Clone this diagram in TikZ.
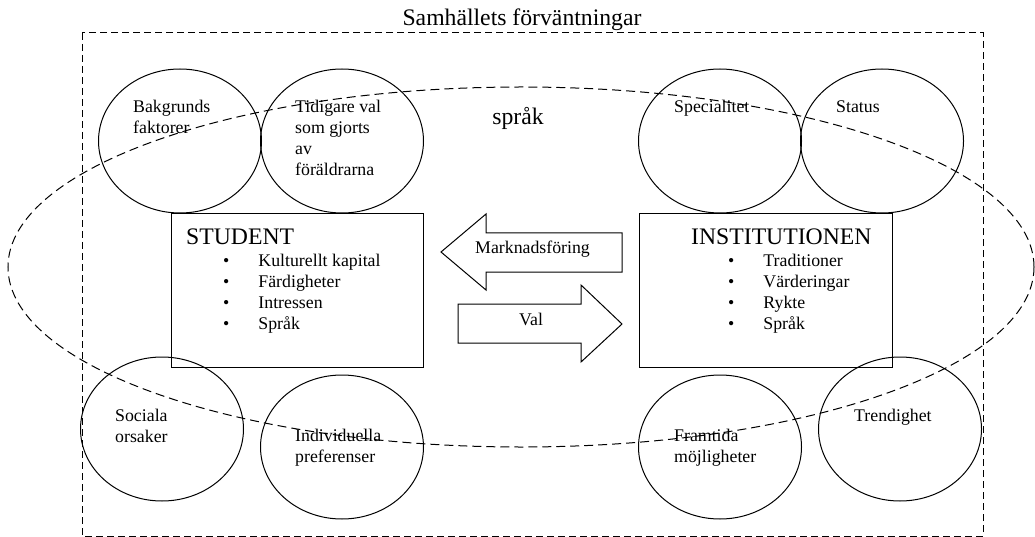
\documentclass[tikz,border=0pt]{standalone}
\usepackage{fontspec}
\setmainfont{Liberation Serif}
\usetikzlibrary{shapes.geometric}
\newcommand{\smalltxt}{\fontsize{17.8}{21}\selectfont}
\newcommand{\bigtxt}{\fontsize{23.7}{28}\selectfont}
\newcommand{\rows}[1]{\begin{tabular}[t]{@{}l@{}}#1\end{tabular}}
\newcommand{\bullets}[1]{\begin{tabular}[t]{@{}l@{\hspace{29pt}}l@{}}#1\end{tabular}}
\tikzset{
    circ/.style={draw, ellipse, line width=1pt, minimum width=163pt, minimum height=144pt, inner sep=0pt},
    box/.style={draw, rectangle, line width=1pt, inner sep=0pt},
    lbl/.style={anchor=base west, inner sep=0pt, font=\smalltxt},
    heading/.style={anchor=base west, inner sep=0pt, font=\bigtxt},
    dashline/.style={line width=1pt, dash pattern=on 7pt off 4pt},
    blockarrow/.style={draw, line width=1pt, line join=miter}
}
\begin{document}
\begin{tikzpicture}[x=1pt, y=-1pt]
    \useasboundingbox (0,0) rectangle (1035,537);
    % Outer frame with its title
    \draw[dashline] (82,33) rectangle (983,536);
    \node[heading, anchor=base] (title) at (522,26) {Samhällets förväntningar};
    % The circles round the two boxes
    \foreach \name/\x/\y in {bakgrund/180/141, tidigare/342/141, special/720/141, status/882/141,
                             sociala/162/429, individ/342/447, framtid/720/447, trend/900/429} {
            \node[circ] (\name) at (\x,\y) {};
        }
    % Texts in the circles
    \node[lbl] (bakgrundtxt) at (133,113) {\rows{Bakgrunds\\faktorer}};
    \node[lbl] (tidigaretxt) at (295,113) {\rows{Tidigare val\\som gjorts\\av\\föräldrarna}};
    \node[lbl] (specialtxt) at (674,113) {Specialitet};
    \node[lbl] (statustxt) at (836,113) {Status};
    \node[lbl] (socialatxt) at (115,421) {\rows{Sociala\\orsaker}};
    \node[lbl] (individtxt) at (295,441) {\rows{Individuella\\preferenser}};
    \node[lbl] (framtidtxt) at (674,441) {\rows{Framtida\\möjligheter}};
    \node[lbl] (trendtxt) at (854,421) {Trendighet};
    % The language ellipse
    \draw[line width=1pt, dash pattern=on 9pt off 5pt] (521,267) ellipse [x radius=513pt, y radius=180pt];
    \node[heading, anchor=base] (sprak) at (518,125) {språk};
    % Student box
    \node[box, minimum width=252pt, minimum height=153pt] (student) at (297,290.5) {};
    \node[heading] (studenthead) at (186,244) {STUDENT};
    \node[lbl] (studentlist) at (223,266) {\bullets{•&Kulturellt kapital\\•&Färdigheter\\•&Intressen\\•&Språk}};
    % Institution box
    \node[box, minimum width=253pt, minimum height=153pt] (inst) at (765.5,290.5) {};
    \node[heading] (insthead) at (691,244) {INSTITUTIONEN};
    \node[lbl] (instlist) at (728,266) {\bullets{•&Traditioner\\•&Värderingar\\•&Rykte\\•&Språk}};
    % Block arrows between the boxes
    \draw[blockarrow] (622,233) -- (486,233) -- (486,214) -- (441,252) -- (486,290) -- (486,272) -- (622,272) -- cycle;
    \node[lbl] (marknad) at (475,254) {Marknadsföring};
    \draw[blockarrow] (458,304) -- (581,304) -- (581,285) -- (622,324) -- (581,362) -- (581,343) -- (458,343) -- cycle;
    \node[lbl] (val) at (519,325) {Val};
\end{tikzpicture}
\end{document}
